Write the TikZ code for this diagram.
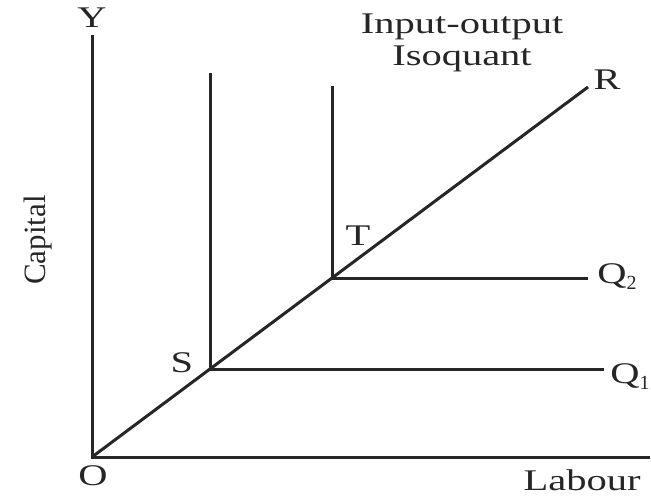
\documentclass[tikz,border=0pt]{standalone}
\usepackage{fontspec}
\usepackage{graphicx}
\setmainfont{Liberation Serif}
\newcommand\widetxt[1]{\scalebox{1.35}[1]{#1}}
\newcommand\lowsub[1]{\raisebox{-0.45ex}{\fontsize{10}{12}\selectfont #1}}
\tikzset{
  lab/.style={font=\fontsize{15}{17}\selectfont, inner sep=0pt, text=black!85},
  axisline/.style={line width=1.5pt, draw=black!85},
  curve/.style={line width=1.5pt, draw=black!85},
}
\begin{document}
\begin{tikzpicture}[x=0.5pt, y=-0.5pt]
\useasboundingbox (0,0) rectangle (651,495);
% points
\coordinate (O) at (92,457);
\coordinate (Ytop) at (92,35);
\coordinate (Xend) at (650,457);
\coordinate (Rend) at (588,87);
\coordinate (S) at (210,369);
\coordinate (Stop) at (210,73);
\coordinate (Send) at (604,369);
\coordinate (T) at (332,278);
\coordinate (Ttop) at (332,86);
\coordinate (Tend) at (588,278);
% axes
\draw[axisline] (Ytop) -- (O) -- (Xend);
% ray
\draw[curve] (O) -- (Rend);
% isoquants
\draw[curve] (Stop) -- (S) -- (Send);
\draw[curve] (Ttop) -- (T) -- (Tend);
% labels
\node[lab] (ylab) at (92,18) {\widetxt{Y}};
\node[lab] (olab) at (93,476) {\widetxt{O}};
\node[lab] (labour) at (582,480) {\widetxt{Labour}};
\node[lab, font=\fontsize{15.5}{17}\selectfont, rotate=90] (capital) at (38,240) {Capital};
\node[lab] (rlab) at (607,80) {\widetxt{R}};
\node[lab] (slab) at (182,363) {\widetxt{S}};
\node[lab] (tlab) at (358,236) {\widetxt{T}};
\node[lab, anchor=base west] (q2) at (597,283) {\widetxt{Q}\lowsub{2}};
\node[lab, anchor=base west] (q1) at (610,383) {\widetxt{Q}\lowsub{1}};
\node[lab] (title1) at (462,27) {\widetxt{Input-output}};
\node[lab] (title2) at (462,59) {\widetxt{Isoquant}};
\end{tikzpicture}
\end{document}
